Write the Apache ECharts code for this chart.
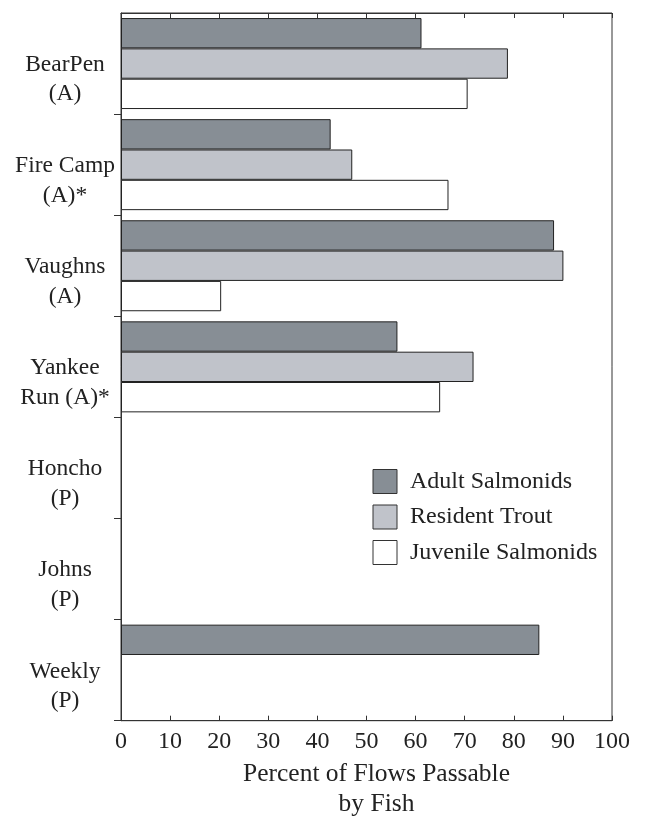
<!DOCTYPE html>
<html>
<head>
<meta charset="utf-8">
<script src="https://cdn.jsdelivr.net/npm/echarts@6/dist/echarts.min.js"></script>
<style>
  html, body { margin: 0; padding: 0; background: #fff; }
  #chart { width: 650px; height: 825px; }
</style>
</head>
<body>
<div id="chart"></div>
<script>
// Stream crossings, top to bottom
const sites = [
  'BearPen\n(A)',
  'Fire Camp\n(A)*',
  'Vaughns\n(A)',
  'Yankee\nRun (A)*',
  'Honcho\n(P)',
  'Johns\n(P)',
  'Weekly\n(P)'
];

// Percent of flows passable, per fish group (null = no bar)
const adultSalmonids    = [61.2, 42.7, 88.2, 56.3, null, null, 85.2];
const residentTrout     = [78.8, 47.1, 90.1, 71.8, null, null, null];
const juvenileSalmonids = [70.6, 66.7, 20.4, 65.0, null, null, null];

const seriesNames = ['Adult Salmonids', 'Resident Trout', 'Juvenile Salmonids'];
const xTicks = { min: 0, max: 100, step: 10 };

const serif = '"Liberation Serif", "DejaVu Serif", serif';
const ink = '#222';
const frame = '#333';

const chart = echarts.init(document.getElementById('chart'), null, { renderer: 'canvas' });

function barSeries(name, data, fill) {
  return {
    name: name,
    type: 'bar',
    data: data,
    xAxisIndex: 0,
    yAxisIndex: 0,
    barGap: '0%',
    barCategoryGap: '10%',
    itemStyle: { color: fill, borderColor: ink, borderWidth: 1 },
    emphasis: { disabled: true }
  };
}

chart.setOption({
  animation: false,
  backgroundColor: '#fff',
  grid: {
    left: 121, right: 38, top: 13, bottom: 96,
    show: true, borderColor: frame, borderWidth: 1
  },
  legend: {
    orient: 'vertical',
    left: 372.5,
    top: 469,
    padding: 0,
    itemWidth: 24,
    itemHeight: 24,
    itemGap: 10.5,
    icon: 'rect',
    itemStyle: { borderColor: frame, borderWidth: 1 },
    textStyle: { fontFamily: serif, fontSize: 24, color: ink, padding: [0, 0, 0, 8] },
    data: seriesNames
  },
  xAxis: [
    {
      type: 'value',
      position: 'bottom',
      min: xTicks.min,
      max: xTicks.max,
      interval: xTicks.step,
      axisLine: { show: true, lineStyle: { color: frame, width: 1 } },
      axisTick: { show: true, inside: true, length: 5, lineStyle: { color: frame } },
      axisLabel: { fontFamily: serif, fontSize: 24, color: ink, margin: 9 },
      splitLine: { show: false },
      name: 'Percent of Flows Passable\nby Fish',
      nameLocation: 'middle',
      nameGap: 36,
      nameTextStyle: { fontFamily: serif, fontSize: 25.5, color: ink, lineHeight: 30.7, padding: [0, 0, 0, 20] }
    },
    {
      type: 'value',
      position: 'top',
      min: xTicks.min,
      max: xTicks.max,
      interval: xTicks.step,
      axisLine: { show: true, lineStyle: { color: frame, width: 1 } },
      axisTick: { show: true, inside: true, length: 5, lineStyle: { color: frame } },
      axisLabel: { show: false },
      splitLine: { show: false }
    }
  ],
  yAxis: [
    {
      type: 'category',
      data: sites,
      inverse: true,
      axisLine: { show: true, lineStyle: { color: frame, width: 1 } },
      axisTick: {
        show: true,
        inside: false,
        length: 7,
        lineStyle: { color: frame },
        interval: function (index) { return index > 0; }
      },
      axisLabel: {
        interval: 0,
        fontFamily: serif,
        fontSize: 23.5,
        lineHeight: 29.5,
        color: ink,
        align: 'center',
        verticalAlign: 'middle',
        margin: 56,
        // a short blank first line drops each two-line name a little below its band centre
        formatter: function (value) { return '{gap| }\n' + value; },
        rich: { gap: { fontSize: 10, lineHeight: 32 } }
      },
      splitLine: { show: false }
    }
  ],
  series: [
    barSeries(seriesNames[0], adultSalmonids, '#878E95'),
    barSeries(seriesNames[1], residentTrout, '#C0C3CA'),
    barSeries(seriesNames[2], juvenileSalmonids, '#FFFFFF')
  ]
});
</script>
</body>
</html>
